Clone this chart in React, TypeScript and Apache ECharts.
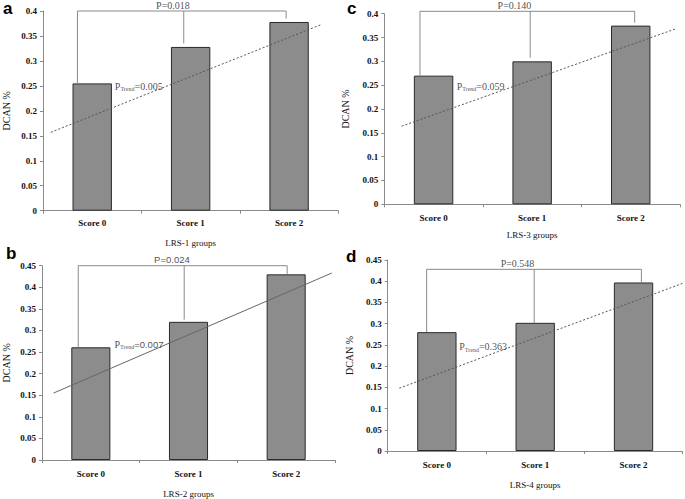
import React, { useEffect, useRef } from "react";
import * as echarts from "echarts";

const categories = ["Score 0", "Score 1", "Score 2"];

// DCAN % per LRS score group
const dcanA = [0.255, 0.328, 0.378];
const dcanB = [0.261, 0.32, 0.43];
const dcanC = [0.27, 0.3, 0.375];
const dcanD = [0.28, 0.302, 0.397];

// trend lines (x in category units 0..3, y in DCAN %)
const trendA = [[0.08, 0.157], [2.83, 0.373]];
const trendB = [[0.118, 0.155], [2.967, 0.433]];
const trendC = [[0.176, 0.164], [2.966, 0.369]];
const trendD = [[0.118, 0.148], [3.0, 0.395]];

// bracket legs x positions, top value, bottom values
const bracketXA = [0.35, 1.43, 2.47];
const bracketBotA = [0.255, 0.335, 0.385];
const bracketXB = [0.371, 1.456, 2.51];
const bracketBotB = [0.261, 0.325, 0.431];
const bracketXC = [0.362, 1.48, 2.54];
const bracketBotC = [0.27, 0.3075, 0.381];
const bracketXD = [0.396, 1.49, 2.58];
const bracketBotD = [0.28, 0.302, 0.397];
const bracketTop = [0.4, 0.45, 0.405, 0.428];

const pLabels = ["P=0.018", "P=0.024", "P=0.140", "P=0.548"];
const pTrend = ["=0.005", "=0.007", "=0.059", "=0.363"];
const pTrendPos = [[0.73, 0.249], [0.742, 0.268], [0.734, 0.248], [0.728, 0.246]];
const pLabelX = [1.32, 1.33, 1.32, 1.32];

const groupNames = ["LRS-1 groups", "LRS-2 groups", "LRS-3 groups", "LRS-4 groups"];
const yMax = [0.4, 0.45, 0.4, 0.45];

const SERIF = "'Liberation Serif', 'Times New Roman', serif";
const SANS = "'Liberation Sans', Arial, sans-serif";

export default function App() {
  const ref = useRef<HTMLDivElement>(null);
  useEffect(() => {
    document.body.style.margin = "0";
    const chart = echarts.init(ref.current!, null, { renderer: "svg" });
    const panels = [
      { grid: { left: 39.3, top: 11, width: 299, height: 199.7 }, values: dcanA, trend: trendA, bx: bracketXA, bb: bracketBotA, nameGap: 32, xNameGap: 28, labelMargin: 8, dotted: true, sans: false },
      { grid: { left: 38.3, top: 265.7, width: 296.7, height: 198.6 }, values: dcanB, trend: trendB, bx: bracketXB, bb: bracketBotB, nameGap: 31, xNameGap: 29, labelMargin: 9, dotted: false, sans: true },
      { grid: { left: 384.3, top: 13.7, width: 295.7, height: 190.6 }, values: dcanC, trend: trendC, bx: bracketXC, bb: bracketBotC, nameGap: 34, xNameGap: 26, labelMargin: 9, dotted: true, sans: false },
      { grid: { left: 387.7, top: 260, width: 295, height: 191 }, values: dcanD, trend: trendD, bx: bracketXD, bb: bracketBotD, nameGap: 33, xNameGap: 29, labelMargin: 9, dotted: true, sans: false },
    ];
    const grids: any[] = [];
    const xAxes: any[] = [];
    const yAxes: any[] = [];
    const series: any[] = [];
    panels.forEach((p, i) => {
      grids.push({ ...p.grid, containLabel: false });
      xAxes.push({
        type: "category",
        gridIndex: i,
        data: categories,
        name: groupNames[i],
        nameLocation: "middle",
        nameGap: p.xNameGap,
        nameTextStyle: { fontFamily: SERIF, fontSize: 9, color: "#111" },
        axisLine: { lineStyle: { color: "#8a8a8a", width: 1 } },
        axisTick: { show: true, length: 3, lineStyle: { color: "#8a8a8a" } },
        axisLabel: { fontFamily: SERIF, fontWeight: "bold", fontSize: 9, color: "#111", margin: p.labelMargin },
      });
      xAxes.push({ type: "value", gridIndex: i, min: 0, max: 3, show: false });
      yAxes.push({
        type: "value",
        gridIndex: i,
        min: 0,
        max: yMax[i],
        interval: 0.05,
        name: "DCAN %",
        nameLocation: "middle",
        nameGap: p.nameGap,
        nameTextStyle: { fontFamily: SERIF, fontSize: 10, color: "#111" },
        splitLine: { show: false },
        axisLine: { show: true, lineStyle: { color: "#8a8a8a", width: 1 } },
        axisTick: { show: true, length: 3, lineStyle: { color: "#8a8a8a" } },
        axisLabel: { fontFamily: SERIF, fontWeight: "bold", fontSize: 9, color: "#111", margin: 6 },
      });
      series.push({
        type: "bar",
        xAxisIndex: 2 * i,
        yAxisIndex: i,
        data: p.values,
        barWidth: "40%",
        itemStyle: { color: "#8c8c8c", borderColor: "#2a2a2a", borderWidth: 1 },
        z: 2,
      });
      series.push({
        type: "line",
        xAxisIndex: 2 * i + 1,
        yAxisIndex: i,
        data: p.trend,
        symbol: "none",
        clip: false,
        lineStyle: p.dotted ? { color: "#555", width: 1, type: [2, 2] } : { color: "#666", width: 1 },
        z: 3,
      });
      const top = bracketTop[i];
      series.push({
        type: "line",
        xAxisIndex: 2 * i + 1,
        yAxisIndex: i,
        data: [[p.bx[0], p.bb[0]], [p.bx[0], top], [p.bx[2], top], [p.bx[2], p.bb[2]]],
        symbol: "none",
        clip: false,
        lineStyle: { color: "#8a8a8a", width: 1 },
        z: 3,
      });
      series.push({
        type: "line",
        xAxisIndex: 2 * i + 1,
        yAxisIndex: i,
        data: [[p.bx[1], top], [p.bx[1], p.bb[1]]],
        symbol: "none",
        clip: false,
        lineStyle: { color: "#8a8a8a", width: 1 },
        z: 3,
      });
      series.push({
        type: "scatter",
        xAxisIndex: 2 * i + 1,
        yAxisIndex: i,
        symbolSize: 0,
        clip: false,
        data: [[pLabelX[i], top]],
        label: {
          show: true,
          position: "top",
          distance: 1,
          formatter: pLabels[i],
          fontFamily: p.sans ? SANS : SERIF,
          fontSize: p.sans ? 9.5 : 10,
          color: "#222",
        },
        z: 4,
      });
      series.push({
        type: "scatter",
        xAxisIndex: 2 * i + 1,
        yAxisIndex: i,
        symbolSize: 0,
        clip: false,
        data: [pTrendPos[i]],
        label: {
          show: true,
          position: "right",
          distance: 0,
          formatter: "{p|P}{s|Trend}{v|" + pTrend[i] + "}",
          rich: {
            p: { fontFamily: SERIF, fontSize: 10, color: "#222" },
            s: { fontFamily: SERIF, fontSize: 6, color: "#222", padding: [6, 0, 0, 0] },
            v: { fontFamily: p.sans ? SANS : SERIF, fontSize: p.sans ? 9.5 : 10, color: "#222" },
          },
        },
        z: 4,
      });
    });
    const letter = (t: string, x: number, y: number) => ({
      type: "text",
      x,
      y,
      style: { text: t, font: "bold 17px 'Liberation Sans', Arial, sans-serif", fill: "#000", textVerticalAlign: "middle" },
    });
    chart.setOption({
      animation: false,
      backgroundColor: "#fff",
      grid: grids,
      xAxis: xAxes,
      yAxis: yAxes,
      series,
      graphic: [letter("a", 3, 8), letter("b", 6, 253), letter("c", 347, 8), letter("d", 346, 256)],
    });
    return () => chart.dispose();
  }, []);
  return <div ref={ref} style={{ position: "absolute", left: 0, top: 0, width: 685, height: 499 }} />;
}
